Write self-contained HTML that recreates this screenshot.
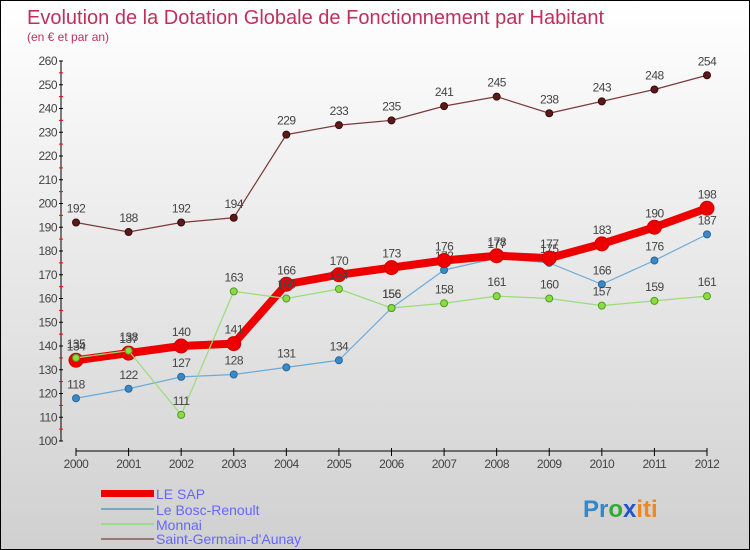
<!DOCTYPE html>
<html><head><meta charset="utf-8"><style>
body{margin:0}
#c{width:750px;height:550px;position:relative;box-sizing:border-box;border:1px solid #000;background:linear-gradient(#fff,#d0d0d0);font-family:"Liberation Sans",sans-serif;overflow:hidden}
svg{position:absolute;left:0;top:0}
</style></head><body>
<div id="c">
<svg id="s" width="750" height="550">
<text x="26" y="23" font-size="20" fill="#c0305a">Evolution de la Dotation Globale de Fonctionnement par Habitant</text>
<text x="26" y="40" font-size="12" fill="#c0305a">(en € et par an)</text>
<g>
<rect x="100" y="489" width="53" height="7" fill="#e00"/>
<text x="155" y="498" font-size="14" fill="#6666ff">LE SAP</text>
<rect x="100" y="507" width="53" height="2" fill="#7ab"/>
<text x="155" y="514" font-size="14" fill="#6666ff">Le Bosc-Renoult</text>
<rect x="100" y="522" width="53" height="2" fill="#9d8"/>
<text x="155" y="529" font-size="14" fill="#6666ff">Monnai</text>
<rect x="100" y="537" width="53" height="2" fill="#977"/>
<text x="155" y="543" font-size="14" fill="#6666ff">Saint-Germain-d'Aunay</text>
</g>
<text x="582" y="516" font-size="24" font-weight="bold" fill="#38c">Pr<tspan fill="#3a3">o</tspan><tspan fill="#25c">x</tspan><tspan fill="#e82">iti</tspan></text>
</svg>
</div>
<script>
const years=[2000,2001,2002,2003,2004,2005,2006,2007,2008,2009,2010,2011,2012];
const leSap=[134,137,140,141,166,170,173,176,178,177,183,190,198];
const bosc=[118,122,127,128,131,134,156,172,177,175,166,176,187];
const monnai=[135,138,111,163,160,164,156,158,161,160,157,159,161];
const sga=[192,188,192,194,229,233,235,241,245,238,243,248,254];
const yTicks=[100,110,120,130,140,150,160,170,180,190,200,210,220,230,240,250,260];
const NS="http://www.w3.org/2000/svg",s=document.getElementById('s');
const X=i=>75+i*(706-75)/(years.length-1);
const Y=v=>440-(v-100)*(380/160);
function el(t,a,p){const e=document.createElementNS(NS,t);for(const k in a)e.setAttribute(k,a[k]);(p||s).appendChild(e);return e;}
const ax=el('g',{});


const yl=el('line',{x1:60,y1:60,x2:60,y2:440,stroke:'#000'},ax);


yTicks.forEach(v=>{
 el('line',{x1:58,x2:62,y1:Y(v),y2:Y(v),stroke:'#000'},ax);
 if(v<260)el('line',{x1:58,x2:62,y1:Y(v+5),y2:Y(v+5),stroke:'#f00'},ax);
 const t=el('text',{x:56,y:Y(v)+4,'font-size':12,fill:'#444','text-anchor':'end','letter-spacing':'-0.5'},ax);
 
 
 t.textContent=v;
});
const xl=el('line',{x1:75,y1:450,x2:706,y2:450,stroke:'#000'},ax);


years.forEach((y,i)=>{
 el('line',{x1:X(i),x2:X(i),y1:447,y2:455,stroke:'#000'},ax);
 const t=el('text',{x:X(i),y:467,'font-size':12,fill:'#444','text-anchor':'middle','letter-spacing':'-0.5'},ax);
 
 
 t.textContent=y;
});
function series(d,name,color,w,r,fill,stroke){
 const g=el('g',{});
 
 
 const p=el('polyline',{points:d.map((v,i)=>X(i)+','+Y(v)).join(' '),fill:'none',stroke:color,'stroke-width':w,'stroke-linejoin':'round'},g);
 
 
 d.forEach((v,i)=>{
  const c=el('circle',{cx:X(i),cy:Y(v),r:r,fill:fill,stroke:stroke,'stroke-width':1},g);
  
  
  const t=el('text',{x:X(i),y:Y(v)-10,'font-size':12,fill:'#444','text-anchor':'middle','letter-spacing':'-0.5'},g);
  
  
  t.textContent=v;
 });
}
series(sga,'saint-germain','#7a3a3a',1.2,3.5,'#5a1a1a','#3a0a0a');
series(bosc,'bosc-renoult','#6aaad8',1.2,3.5,'#3a88c8','#2a6898');
series(leSap,'le-sap','#ee0000',8,7,'#ee0000','#c00');
series(monnai,'monnai','#99dd77',1.2,3.5,'#88dd44','#559922');
</script>
</body></html>
